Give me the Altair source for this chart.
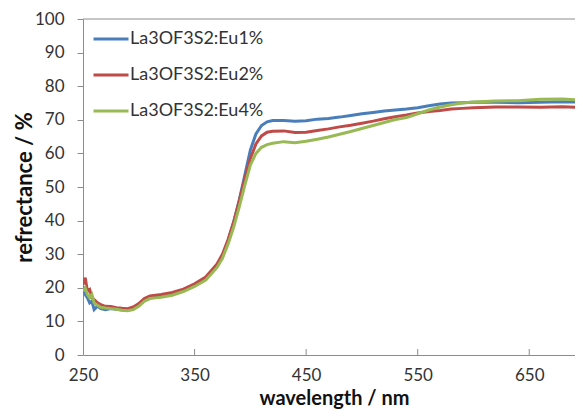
import altair as alt
import pandas as pd

wavelength = [250, 252, 254, 256, 258, 260, 263, 266, 270, 275, 280, 285, 290, 295, 300,
              305, 310, 315, 320, 330, 340, 350, 360, 370, 375, 380, 385, 390, 395, 400,
              405, 410, 415, 420, 430, 440, 450, 460, 470, 480, 490, 500, 510, 520, 530,
              540, 550, 560, 570, 580, 590, 600, 620, 640, 660, 680, 700]

eu1 = [20.5, 18, 17, 15.5, 16, 13.5, 14.5, 13.8, 13.5, 13.8, 13.6, 13.4, 13.4, 13.8, 14.8,
       16.2, 17, 17.3, 17.5, 18.2, 19.3, 20.8, 22.7, 26.5, 29.5, 34, 39.5, 46, 53.5, 61,
       65.8, 68.3, 69.4, 69.8, 69.8, 69.6, 69.7, 70.2, 70.4, 70.8, 71.3, 71.8, 72.2, 72.6, 72.9,
       73.2, 73.6, 74.2, 74.7, 75, 75.1, 75.2, 75.2, 75.1, 75.2, 75.4, 75.2]

eu2 = [21, 23, 19, 19.5, 17, 16.5, 15.5, 15, 14.5, 14.4, 14.1, 13.9, 13.8, 14.3, 15.3,
       16.8, 17.6, 17.8, 18, 18.6, 19.6, 21.2, 23.2, 27, 30, 34.3, 39.5, 45.8, 52.5, 58.5,
       62.8, 65.2, 66.3, 66.6, 66.7, 66.2, 66.3, 66.8, 67.3, 67.9, 68.4, 69, 69.6, 70.3, 70.9,
       71.4, 72, 72.5, 72.8, 73.2, 73.4, 73.6, 73.8, 73.8, 73.7, 73.9, 73.6]

eu4 = [19, 20, 18, 17, 18, 15.5, 14.8, 14.2, 14, 13.8, 13.6, 13.3, 13.2, 13.5, 14.5,
       16, 16.8, 17, 17.2, 17.8, 18.9, 20.4, 22.3, 26, 28.8, 33, 38, 44, 50.5, 56.5,
       60, 61.8, 62.6, 63, 63.5, 63.2, 63.6, 64.2, 64.9, 65.7, 66.5, 67.4, 68.3, 69.2, 70.1,
       70.7, 71.8, 72.9, 73.8, 74.5, 75, 75.3, 75.6, 75.7, 76.1, 76.2, 75.8]

series_names = ["La3OF3S2:Eu1%", "La3OF3S2:Eu2%", "La3OF3S2:Eu4%"]
series_colors = ["#4a7ebb", "#be4b48", "#98b954"]
x_tick_values = [250, 350, 450, 550, 650]
x_inner_ticks = [350, 450, 550, 650]
y_tick_values = [0, 10, 20, 30, 40, 50, 60, 70, 80, 90, 100]

rows = []
for name, ys in zip(series_names, [eu1, eu2, eu4]):
    for x, y in zip(wavelength, ys):
        rows.append({"wavelength": x, "refl": y, "series": name})
df = pd.DataFrame(rows)

W, H = 492, 336
AXIS_GRAY = "#8c8c8c"
FONT = "Lato"

x_scale = alt.Scale(domain=[250, 691], nice=False, zero=False)
y_scale = alt.Scale(domain=[0, 100], nice=False)

x_axis = alt.Axis(
    values=x_tick_values, tickCount=20, title="wavelength / nm", grid=False,
    tickSize=0, labelPadding=12, labelFont=FONT, labelFontSize=17,
    labelColor="#333333", labelFlush=False, labelOverlap=False,
    domainColor=AXIS_GRAY,
    titleFont=FONT, titleFontSize=20, titleFontWeight="bold", titleColor="#111111",
    titleX=251, titleY=49, titleAlign="center", titleBaseline="alphabetic",
)
y_axis = alt.Axis(
    values=y_tick_values, tickCount=20, title="refrectance / %", grid=False,
    tickSize=6, tickColor=AXIS_GRAY, labelPadding=13, labelFont=FONT,
    labelFontSize=17, labelColor="#333333", labelOverlap=False, labelBound=False,
    domainColor=AXIS_GRAY,
    titleFont=FONT, titleFontSize=22, titleFontWeight="bold", titleColor="#111111",
    titleX=-52, titleY=H / 2, titleAlign="center", titleBaseline="alphabetic",
    titleAngle=270,
)

lines = alt.Chart(df).mark_line(strokeWidth=3, clip=True).encode(
    x=alt.X("wavelength:Q", scale=x_scale, axis=x_axis),
    y=alt.Y("refl:Q", scale=y_scale, axis=y_axis),
    color=alt.Color(
        "series:N",
        scale=alt.Scale(domain=series_names, range=series_colors),
        legend=alt.Legend(
            orient="none", legendX=9, legendY=1, title=None,
            symbolType="stroke", symbolSize=1225, symbolStrokeWidth=3,
            labelFont=FONT, labelFontSize=18, labelColor="#333333",
            labelOffset=0, rowPadding=8, padding=0,
        ),
    ),
)

top_line = alt.Chart(pd.DataFrame({"refl": [100]})).mark_rule(
    color=AXIS_GRAY, strokeWidth=1
).encode(y=alt.Y("refl:Q", scale=y_scale, axis=y_axis), x=alt.value(0), x2=alt.value(W))

inner_ticks = alt.Chart(pd.DataFrame({"wavelength": x_inner_ticks})).mark_rule(
    color=AXIS_GRAY, strokeWidth=1
).encode(x=alt.X("wavelength:Q", scale=x_scale, axis=x_axis),
         y=alt.value(H - 6), y2=alt.value(H))

chart = alt.layer(lines, top_line, inner_ticks).properties(
    width=W, height=H,
    autosize=alt.AutoSizeParams(type="none"),
    padding={"left": 75, "top": 11, "right": 0, "bottom": 54},
    background="white",
).configure_view(stroke=None)

chart.save("out.html", embed_options={"renderer": "svg", "actions": False})
